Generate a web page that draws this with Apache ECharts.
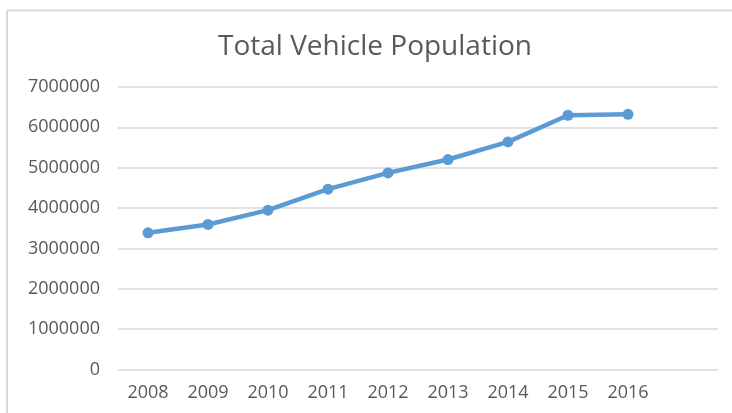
<!DOCTYPE html>
<html>
<head>
<meta charset="utf-8">
<script src="https://cdn.jsdelivr.net/npm/echarts@6/dist/echarts.min.js"></script>
<style>
html,body{margin:0;padding:0;background:#fff;}
#chart{width:732px;height:413px;}
</style>
</head>
<body>
<div id="chart"></div>
<script>
const title = "Total Vehicle Population";
const categories = ["2008","2009","2010","2011","2012","2013","2014","2015","2016",""];
const values = [3386000, 3594000, 3948000, 4468000, 4871000, 5203000, 5639000, 6300000, 6324000, null];
const yMin = 0, yMax = 7000000, yInterval = 1000000;

const chart = echarts.init(document.getElementById('chart'), null, {renderer:'canvas'});
chart.setOption({
  backgroundColor: '#ffffff',
  animation: false,
  title: {
    text: title,
    left: 370, top: 28, textAlign: 'center',
    textStyle: {fontFamily: '"Open Sans", sans-serif', fontSize: 28, fontWeight: 'normal', color: '#595959'}
  },
  graphic: [
    {type:'line', shape:{x1:7, y1:10.5, x2:732, y2:10.5}, style:{stroke:'#d9d9d9', lineWidth:2}},
    {type:'line', shape:{x1:7, y1:10.5, x2:7, y2:413}, style:{stroke:'#d9d9d9', lineWidth:2}}
  ],
  grid: {left: 118, right: 14, top: 87, bottom: 43.5, containLabel: false},
  xAxis: {
    type: 'category', data: categories, boundaryGap: true,
    axisLine: {show: false}, axisTick: {show: false},
    axisLabel: {color: '#595959', fontFamily: '"Open Sans", sans-serif', fontSize: 18, margin: 14}
  },
  yAxis: {
    type: 'value', min: yMin, max: yMax, interval: yInterval,
    axisLine: {show: false}, axisTick: {show: false},
    axisLabel: {color: '#595959', fontFamily: '"Open Sans", sans-serif', fontSize: 18, margin: 18,
      formatter: function (v) { return String(v); }},
    splitLine: {lineStyle: {color: '#d9d9d9', width: 1.5}}
  },
  series: [{
    type: 'line', data: values,
    lineStyle: {color: '#5b9bd5', width: 4.5},
    itemStyle: {color: '#5b9bd5'},
    symbol: 'circle', symbolSize: 11,
    showSymbol: true
  }]
});
</script>
</body>
</html>
